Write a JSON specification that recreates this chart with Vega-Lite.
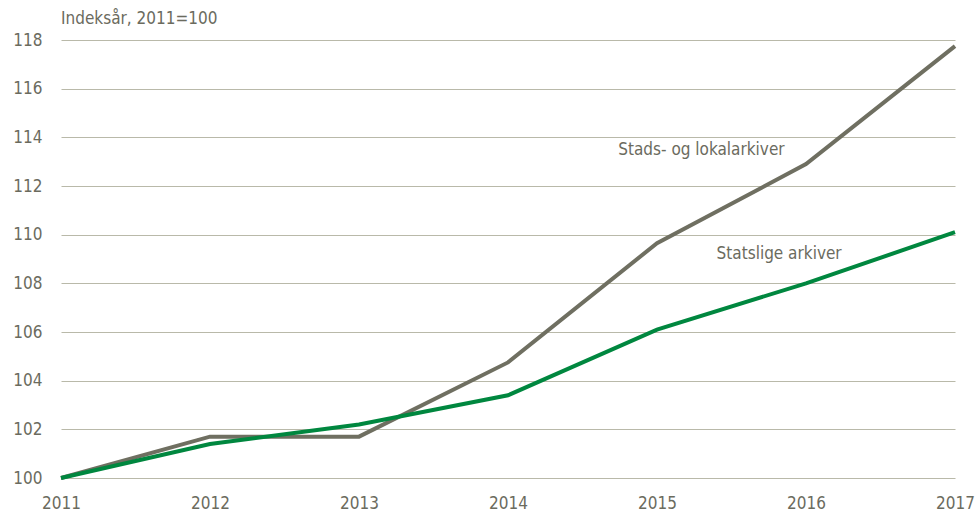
{
  "$schema": "https://vega.github.io/schema/vega-lite/v6.json",
  "width": 894,
  "height": 438,
  "autosize": {"type": "none"},
  "padding": {"left": 61, "top": 40, "right": 23, "bottom": 35},
  "background": "white",
  "config": {
    "view": {"stroke": null},
    "font": "DejaVu Sans Condensed",
    "axis": {"labelFont": "DejaVu Sans Condensed", "labelColor": "#6b6b5e", "labelFontSize": 17}
  },
  "title": {
    "text": "Indeksår, 2011=100",
    "anchor": "start",
    "frame": "group",
    "font": "DejaVu Sans Condensed",
    "fontSize": 17,
    "fontWeight": "normal",
    "color": "#6b6b5e",
    "offset": 3
  },
  "datasets": {
    "lines": [
      {"year": 2011, "series": "Stads- og lokalarkiver", "value": 100},
      {"year": 2012, "series": "Stads- og lokalarkiver", "value": 101.7},
      {"year": 2013, "series": "Stads- og lokalarkiver", "value": 101.7},
      {"year": 2014, "series": "Stads- og lokalarkiver", "value": 104.75},
      {"year": 2015, "series": "Stads- og lokalarkiver", "value": 109.65},
      {"year": 2016, "series": "Stads- og lokalarkiver", "value": 112.9},
      {"year": 2017, "series": "Stads- og lokalarkiver", "value": 117.75},
      {"year": 2011, "series": "Statslige arkiver", "value": 100},
      {"year": 2012, "series": "Statslige arkiver", "value": 101.4},
      {"year": 2013, "series": "Statslige arkiver", "value": 102.2},
      {"year": 2014, "series": "Statslige arkiver", "value": 103.4},
      {"year": 2015, "series": "Statslige arkiver", "value": 106.1},
      {"year": 2016, "series": "Statslige arkiver", "value": 108.0},
      {"year": 2017, "series": "Statslige arkiver", "value": 110.1}
    ],
    "labels": [
      {"year": 2014.74, "value": 113.5, "label": "Stads- og lokalarkiver"},
      {"year": 2015.40, "value": 109.2, "label": "Statslige arkiver"}
    ]
  },
  "layer": [
    {
      "data": {"name": "lines"},
      "mark": {"type": "line", "strokeWidth": 4, "strokeCap": "butt", "strokeJoin": "miter"},
      "encoding": {
        "x": {
          "field": "year", "type": "quantitative",
          "scale": {"domain": [2011, 2017], "nice": false, "zero": false},
          "axis": {"title": null, "format": "d", "values": [2011, 2012, 2013, 2014, 2015, 2016, 2017], "grid": false, "domain": false, "ticks": false, "labelPadding": 17, "labelFlush": false}
        },
        "y": {
          "field": "value", "type": "quantitative",
          "scale": {"domain": [100, 118], "nice": false, "zero": false},
          "axis": {"title": null, "values": [100, 102, 104, 106, 108, 110, 112, 114, 116, 118], "grid": true, "gridColor": "#b9b9a9", "gridWidth": 1.2, "domain": false, "ticks": false, "labelPadding": 19}
        },
        "color": {
          "field": "series", "type": "nominal",
          "scale": {"domain": ["Stads- og lokalarkiver", "Statslige arkiver"], "range": ["#6f6f61", "#00873f"]},
          "legend": null
        },
        "order": {"field": "year"}
      }
    },
    {
      "data": {"name": "labels"},
      "mark": {"type": "text", "align": "left", "baseline": "middle", "fontSize": 17, "color": "#6b6b5e", "font": "DejaVu Sans Condensed"},
      "encoding": {
        "x": {"field": "year", "type": "quantitative"},
        "y": {"field": "value", "type": "quantitative"},
        "text": {"field": "label"}
      }
    }
  ]
}
